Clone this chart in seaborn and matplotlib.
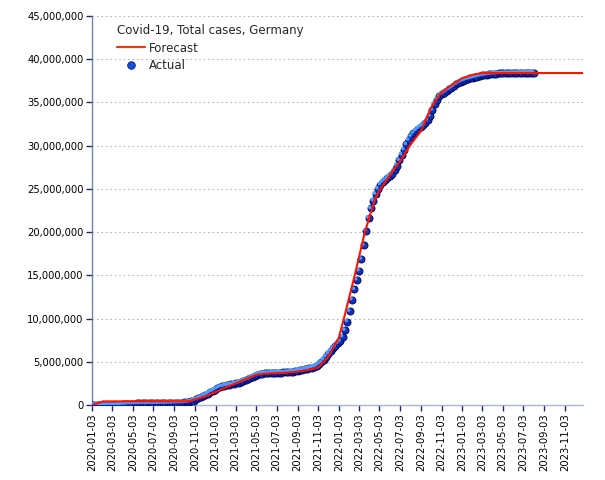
import matplotlib
matplotlib.use("Agg")
import matplotlib.pyplot as plt
import matplotlib.dates as mdates
from matplotlib.lines import Line2D
from matplotlib.transforms import offset_copy
from matplotlib.ticker import FuncFormatter, MultipleLocator
import numpy as np
import pandas as pd
import seaborn as sns

# ---------------- data ----------------
# Actual: weekly cumulative cases (thousands), Fridays from 2020-01-03
actual_start = "2020-01-03"
actual_2020 = [0, 0, 0, 0, 0.005, 0.014, 0.016, 0.016, 0.048, 0.67, 3.7, 19.8, 50.9,
               91.2, 118.2, 138.5, 155.0, 163.0, 169.4, 174.4, 178.5, 181.8, 184.5,
               186.8, 190.3, 193.8, 196.6, 199.0, 201.5, 204.3, 209.7, 214.2, 222.3,
               231.3, 241.0, 249.0, 257.9, 268.3, 282.7, 297.0, 317.5, 356.4, 418.0,
               518.8, 642.5, 773.6, 903.5, 1028.1, 1153.6, 1314.3, 1495.6, 1626.0]
actual_2021 = [1776, 1929, 2052, 2142, 2215, 2280, 2330, 2380, 2436, 2495, 2570, 2660,
               2770, 2880, 2980, 3130, 3270, 3400, 3500, 3580, 3630, 3670, 3690, 3705,
               3715, 3722, 3730, 3737, 3747, 3760, 3778, 3800, 3830, 3870, 3920, 3970,
               4030, 4090, 4140, 4200, 4260, 4330, 4420, 4540, 4730, 4960, 5260, 5610,
               5950, 6260, 6560, 6780, 7130]
actual_2022 = [7400, 7890, 8640, 9650, 10850, 12190, 13370, 14480, 15540, 16870, 18460,
               20140, 21640, 22740, 23650, 24400, 25000, 25500, 25800, 26050, 26280,
               26500, 26750, 27150, 27700, 28310, 28960, 29550, 30140, 30640, 31080,
               31440, 31730, 31970, 32180, 32370, 32620, 32960, 33440, 34110, 34800,
               35330, 35700, 35950, 36150, 36330, 36500, 36680, 36880, 37080, 37260,
               37400]
actual_2023 = [37520, 37620, 37700, 37780, 37850, 37920, 37990, 38060, 38120, 38170,
               38220, 38260, 38290, 38310, 38330, 38350, 38360, 38370, 38380, 38385,
               38390, 38395, 38400, 38405, 38410, 38415, 38420, 38425, 38428, 38430,
               38430]
actual_k = actual_2020 + actual_2021 + actual_2022 + actual_2023

# Forecast curve (thousands)
forecast_dates = ["2020-01-03", "2020-02-05", "2020-10-15", "2020-11-03", "2020-12-03",
                  "2021-01-03", "2021-02-03", "2021-03-03", "2021-04-03", "2021-05-03",
                  "2021-06-03", "2021-07-03", "2021-08-03", "2021-09-03", "2021-10-03",
                  "2021-11-03", "2021-12-03", "2022-01-03", "2022-01-18", "2022-02-19",
                  "2022-03-21", "2022-04-19", "2022-05-03", "2022-06-03", "2022-07-03",
                  "2022-08-03", "2022-09-03", "2022-10-03", "2022-11-03", "2022-12-03",
                  "2023-01-03", "2023-02-03", "2023-03-03", "2023-12-27"]
forecast_k = [0, 420, 430, 650, 1000,
              1500, 2050, 2500, 3000, 3500,
              3650, 3680, 3750, 3880, 4050,
              4350, 5600, 7800, 10000, 15000,
              20000, 23700, 24800, 26600, 28200,
              30100, 31700, 34400, 36200, 37000,
              37800, 38200, 38400, 38400]

title = "Covid-19, Total cases, Germany"
x_start, x_end = "2020-01-03", "2023-12-27"
tick_labels = ["2020-01-03", "2020-03-03", "2020-05-03", "2020-07-03", "2020-09-03",
               "2020-11-03", "2021-01-03", "2021-03-03", "2021-05-03", "2021-07-03",
               "2021-09-03", "2021-11-03", "2022-01-03", "2022-03-03", "2022-05-03",
               "2022-07-03", "2022-09-03", "2022-11-03", "2023-01-03", "2023-03-03",
               "2023-05-03", "2023-07-03", "2023-09-03", "2023-11-03"]

# ---------------- build frames ----------------
actual_df = pd.DataFrame({
    "date": pd.date_range(actual_start, periods=len(actual_k), freq="7D"),
    "cases": np.array(actual_k) * 1000.0,
})
forecast_df = pd.DataFrame({
    "date": pd.to_datetime(forecast_dates),
    "cases": np.array(forecast_k) * 1000.0,
})

# ---------------- plot ----------------
sns.set_theme(style="white")
plt.rcParams["font.family"] = ["DejaVu Sans"]

fig = plt.figure(figsize=(6.05, 4.8), dpi=100)
ax = fig.add_axes([92 / 605, 1 - 405 / 480, (583 - 92) / 605, (405 - 16) / 480])

sns.scatterplot(data=actual_df, x="date", y="cases", ax=ax, s=26,
                color="#1232b4", edgecolor="#000058", linewidth=0.6, zorder=3,
                legend=False)
hl = offset_copy(ax.transData, fig=fig, x=-0.8, y=0.8, units="points")
sns.scatterplot(data=actual_df, x="date", y="cases", ax=ax, s=7,
                color="#4d9cff", edgecolor="none", linewidth=0, zorder=4,
                transform=hl, legend=False)
sns.lineplot(data=forecast_df, x="date", y="cases", ax=ax, color="#ff1400",
             linewidth=1.5, zorder=5, legend=False)

ax.set_xlim(pd.Timestamp(x_start), pd.Timestamp(x_end))
ax.set_ylim(0, 45_000_000)
ax.yaxis.set_major_locator(MultipleLocator(5_000_000))
ax.yaxis.set_major_formatter(FuncFormatter(lambda v, p: f"{v:,.0f}"))
ax.set_xticks(pd.to_datetime(tick_labels))
ax.set_xticklabels(tick_labels)
ax.set_xlabel("")
ax.set_ylabel("")

ax.tick_params(axis="x", labelrotation=90, labelsize=7.2, length=4, width=1,
               color="#1a2a6c", pad=2, bottom=True, direction="out")
ax.tick_params(axis="y", labelsize=7.2, length=4, width=1, color="#1a2a6c",
               pad=2, left=True, direction="out")
for lbl in ax.get_xticklabels() + ax.get_yticklabels():
    lbl.set_color("black")

ax.grid(axis="y", color="#b8b8b8", linestyle=(0, (1.5, 2.5)), linewidth=0.8)
ax.grid(axis="x", visible=False)
ax.set_axisbelow(True)
for side in ("top", "right"):
    ax.spines[side].set_visible(False)
ax.spines["left"].set_color("#7080b0")
ax.spines["bottom"].set_color("#a8b4d4")
ax.spines["left"].set_linewidth(1)
ax.spines["bottom"].set_linewidth(1)

handles = [
    Line2D([0], [0], color="#ff3300", linewidth=1.5),
    Line2D([0], [0], linestyle="none", marker="o", markersize=5.5,
           markerfacecolor="#1a50d8", markeredgecolor="#000080", markeredgewidth=0.5),
]
leg = ax.legend(handles, ["Forecast", "Actual"], title=title, loc="upper left",
                bbox_to_anchor=(19 / 491, 1 - 2 / 389), frameon=False,
                fontsize=8.5, title_fontsize=8.5, borderpad=0, handlelength=2.4,
                handletextpad=0.35, labelspacing=0.4, alignment="left")

fig.savefig("out.png", dpi=100, facecolor="white")
